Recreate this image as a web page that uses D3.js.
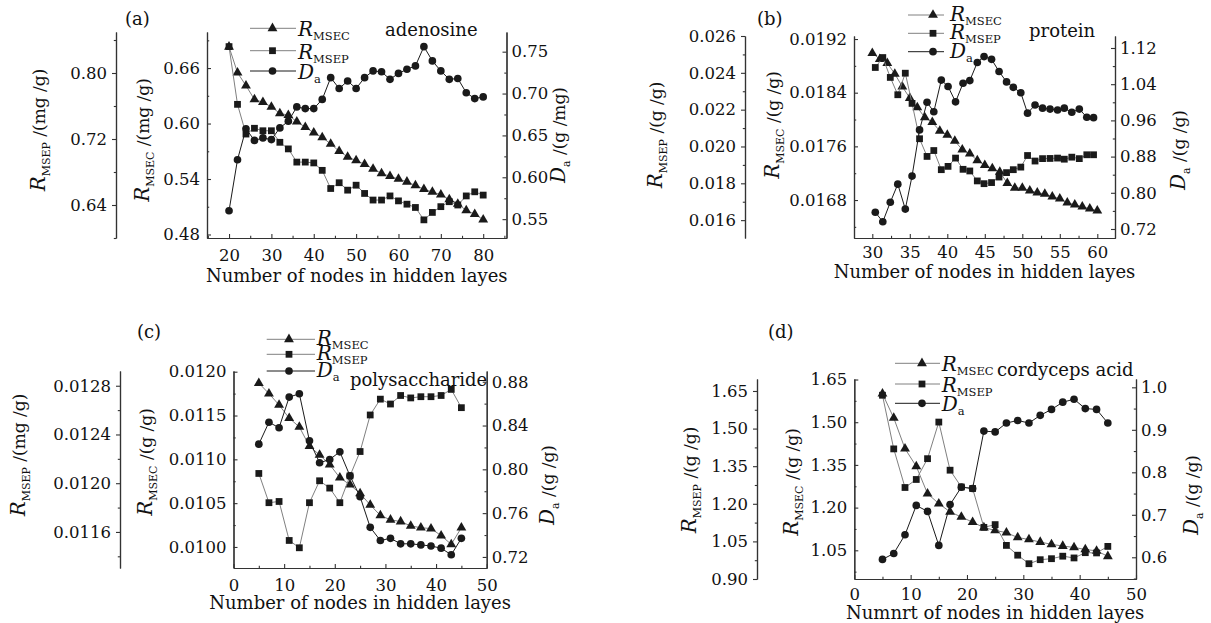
<!DOCTYPE html>
<html>
<head>
<meta charset="utf-8">
<script src="https://cdn.jsdelivr.net/npm/d3@7"></script>
<style>
  body { margin: 0; background: #fff; }
  svg text { font-family: "DejaVu Serif", serif; fill: #111; }
</style>
</head>
<body>
<svg id="chart" width="1211" height="623"></svg>
<script>
// ---- data ----
// (a) adenosine
var aNodes = [20,22,24,26,28,30,32,34,36,38,40,42,44,46,48,50,52,54,56,58,60,62,64,66,68,70,72,74,76,78,80];
var aMsec = [0.683,0.655,0.641,0.626,0.623,0.618,0.611,0.609,0.602,0.596,0.590,0.585,0.578,0.570,0.564,0.560,0.556,0.551,0.546,0.543,0.540,0.537,0.533,0.529,0.526,0.523,0.518,0.513,0.506,0.502,0.496];
var aMsep = [0.832,0.762,0.726,0.733,0.730,0.730,0.716,0.708,0.692,0.692,0.691,0.682,0.660,0.667,0.658,0.664,0.654,0.646,0.646,0.651,0.645,0.641,0.637,0.622,0.631,0.638,0.644,0.640,0.651,0.656,0.652];
var aDa = [0.560,0.621,0.658,0.644,0.647,0.645,0.659,0.667,0.684,0.682,0.682,0.693,0.719,0.706,0.715,0.706,0.719,0.727,0.726,0.717,0.724,0.729,0.733,0.756,0.739,0.727,0.717,0.718,0.701,0.694,0.696];

// (b) protein
var bNodes = [30,31,32,33,34,35,36,37,38,39,40,41,42,43,44,45,46,47,48,49,50,51,52,53,54,55,56,57,58,59,60];
var bNodes2 = [30.4,31.4,32.4,33.4,34.4,35.3,36.3,37.3,38.2,39.2,40.1,41.1,42.1,43.0,44.0,44.9,45.9,46.9,47.9,48.8,49.8,50.7,51.7,52.7,53.7,54.7,55.6,56.6,57.6,58.6,59.5];
var bMsec = [0.01899,0.01890,0.01884,0.01868,0.01849,0.01832,0.01818,0.01803,0.01796,0.01783,0.01777,0.01768,0.01755,0.01749,0.01739,0.01732,0.01727,0.01722,0.01705,0.01698,0.01698,0.01694,0.01691,0.01689,0.01685,0.01682,0.01676,0.01673,0.01670,0.01667,0.01664];
var bMsep = [0.02429,0.02483,0.02375,0.02281,0.02398,0.02234,0.02042,0.01946,0.01978,0.01874,0.01892,0.01937,0.01876,0.01867,0.01813,0.01798,0.01804,0.01834,0.01858,0.01874,0.01888,0.01951,0.01921,0.01934,0.01935,0.01937,0.01931,0.01942,0.01934,0.01955,0.01955];
var bDa = [0.757,0.736,0.779,0.819,0.764,0.837,0.939,1.000,0.979,1.049,1.035,1.001,1.042,1.048,1.088,1.101,1.095,1.068,1.045,1.033,1.021,0.976,0.994,0.987,0.985,0.983,0.987,0.978,0.985,0.967,0.966];

// (c) polysaccharide
var cNodes = [5,7,9,11,13,15,17,19,21,23,25,27,29,31,33,35,37,39,41,43,45];
var cMsec = [0.01187,0.01175,0.01162,0.01147,0.01137,0.01115,0.01105,0.01094,0.01079,0.01071,0.01061,0.01048,0.01036,0.01031,0.01029,0.01024,0.01022,0.01021,0.01013,0.01003,0.01022];
var cMsep = [0.01208,0.01184,0.01185,0.01153,0.01147,0.01184,0.01202,0.01196,0.01184,0.01206,0.01226,0.01256,0.01269,0.01265,0.01272,0.01270,0.01271,0.01271,0.01272,0.01277,0.01262];
var cDa = [0.823,0.843,0.838,0.866,0.869,0.826,0.806,0.809,0.816,0.794,0.775,0.747,0.735,0.737,0.732,0.732,0.731,0.730,0.728,0.722,0.737];

// (d) cordyceps acid
var dNodes = [5,7,9,11,13,15,17,19,21,23,25,27,29,31,33,35,37,39,41,43,45];
var dMsec = [1.600,1.515,1.407,1.345,1.249,1.214,1.185,1.167,1.149,1.130,1.120,1.112,1.095,1.088,1.079,1.071,1.065,1.060,1.053,1.048,1.029];
var dMsep = [1.633,1.419,1.265,1.297,1.380,1.526,1.334,1.267,1.261,1.106,1.117,1.034,0.995,0.961,0.977,0.981,0.991,0.984,1.005,1.004,1.030];
var dDa = [0.595,0.609,0.653,0.722,0.708,0.628,0.724,0.765,0.762,0.897,0.895,0.916,0.922,0.916,0.934,0.948,0.965,0.972,0.950,0.948,0.916];

// tick labels
var aXTicks = [20,30,40,50,60,70,80];
var aMsepTicks = [0.64,0.72,0.80];
var aMsecTicks = [0.48,0.54,0.60,0.66];
var aDaTicks = [0.55,0.60,0.65,0.70,0.75];
var bXTicks = [30,35,40,45,50,55,60];
var bMsepTicks = [0.016,0.018,0.020,0.022,0.024,0.026];
var bMsecTicks = [0.0168,0.0176,0.0184,0.0192];
var bDaTicks = [0.72,0.80,0.88,0.96,1.04,1.12];
var cXTicks = [0,10,20,30,40,50];
var cMsepTicks = [0.0116,0.0120,0.0124,0.0128];
var cMsecTicks = [0.0100,0.0105,0.0110,0.0115,0.0120];
var cDaTicks = [0.72,0.76,0.80,0.84,0.88];
var dXTicks = [0,10,20,30,40,50];
var dMsepTicks = [0.90,1.05,1.20,1.35,1.50,1.65];
var dMsecTicks = [1.05,1.20,1.35,1.50,1.65];
var dDaTicks = [0.6,0.7,0.8,0.9,1.0];

var svg = d3.select("#chart");
var GRAY = "#808080", INK = "#1a1a1a";

// minor ticks halfway between majors, filling the domain
function halves(ticks, domain) {
  var step = (ticks[1] - ticks[0]) / 2, out = [];
  for (var v = ticks[0] - step; v >= domain[0] - 1e-9; v -= step * 2) out.push(v);
  for (var i = 0; i < ticks.length; i++) {
    var m = ticks[i] + step;
    if (m <= domain[1] + 1e-9) out.push(m);
  }
  return out;
}

function addAxis(g, make, scale, ticks, fmt, size, pad, tx, ty) {
  var ga = g.append("g").attr("transform", "translate(" + tx + "," + ty + ")");
  ga.call(make(scale).tickValues(ticks).tickFormat(fmt ? d3.format(fmt) : d3.format("d"))
          .tickSizeInner(size).tickSizeOuter(0).tickPadding(pad));
  ga.append("g").call(make(scale).tickValues(halves(ticks, scale.domain())).tickFormat("")
          .tickSizeInner(size * 0.55).tickSizeOuter(0));
  ga.attr("font-family", null).attr("font-size", null);
  ga.selectAll("g").attr("font-family", null).attr("font-size", null);
  ga.selectAll("path.domain").attr("stroke", "#333").attr("stroke-width", 1.2);
  ga.selectAll(".tick line").attr("stroke", "#333").attr("stroke-width", 1.1);
  ga.selectAll("text").attr("font-size", 16.5).attr("fill", INK);
  return ga;
}

function axisTitle(g, cx, cy, main, sub, rest) {
  var t = g.append("text")
    .attr("transform", "translate(" + cx + "," + cy + ") rotate(-90)")
    .attr("text-anchor", "middle").attr("font-size", 20).attr("dy", "0.35em");
  t.append("tspan").attr("font-style", "italic").attr("font-size", 20).text(main);
  t.append("tspan").attr("font-size", 11).attr("dy", 5).text(sub);
  t.append("tspan").attr("font-size", 17).attr("dy", -5).text(" /(" + rest + ")");
}

function legendRow(g, y, p, sym, color, main, sub) {
  g.append("line").attr("x1", p.legX[0]).attr("x2", p.legX[2])
    .attr("y1", y).attr("y2", y).attr("stroke", color).attr("stroke-width", 1);
  g.append("path").attr("d", d3.symbol().type(sym.type).size(sym.size)())
    .attr("transform", "translate(" + p.legX[1] + "," + y + ")").attr("fill", INK);
  var t = g.append("text").attr("x", p.legX[3]).attr("y", y + p.legDy);
  t.append("tspan").attr("font-style", "italic").attr("font-size", 20).text(main);
  t.append("tspan").attr("font-size", 11.5).attr("dy", 4).text(sub);
}

var TRI = {type: d3.symbolTriangle, size: 42};
var SQR = {type: d3.symbolSquare, size: 46};
var CIR = {type: d3.symbolCircle, size: 46};

function drawSeries(g, xs, ys, x, y, sym, color) {
  var pts = xs.map(function (d, i) { return [x(d), y(ys[i])]; });
  g.append("path").attr("d", d3.line()(pts)).attr("fill", "none")
    .attr("stroke", color).attr("stroke-width", 1);
  g.selectAll(null).data(pts).enter().append("path")
    .attr("d", d3.symbol().type(sym.type).size(sym.size)())
    .attr("transform", function (d) { return "translate(" + d[0] + "," + d[1] + ")"; })
    .attr("fill", INK);
}

function drawPanel(p) {
  var g = svg.append("g");
  var x = d3.scaleLinear().domain(p.xDomain).range([p.inner, p.right]);
  var yP = d3.scaleLinear().domain(p.msepDomain).range([p.bottom, p.top]);
  var yC = d3.scaleLinear().domain(p.msecDomain).range([p.bottom, p.top]);
  var yD = d3.scaleLinear().domain(p.daDomain).range([p.bottom, p.top]);

  addAxis(g, d3.axisLeft, yP, p.msepTicks, p.msepFmt, 4, 5, p.outer, 0);
  addAxis(g, d3.axisLeft, yC, p.msecTicks, p.msecFmt, -4, 7, p.inner, 0);
  addAxis(g, d3.axisRight, yD, p.daTicks, p.daFmt, -4, 5, p.right, 0);
  addAxis(g, d3.axisBottom, x, p.xTicks, null, -4, p.xPad, 0, p.bottom);

  axisTitle(g, p.titleOuter[0], p.titleOuter[1], "R", "MSEP", p.units[0]);
  axisTitle(g, p.titleInner[0], p.titleInner[1], "R", "MSEC", p.units[1]);
  axisTitle(g, p.titleRight[0], p.titleRight[1], "D", "a", p.units[2]);

  g.append("text").attr("x", (p.inner + p.right) / 2).attr("y", p.xTitleY)
    .attr("text-anchor", "middle").attr("font-size", 18).text(p.xTitle);
  g.append("text").attr("x", p.tag[0]).attr("y", p.tag[1]).attr("font-size", 18).text("(" + p.id + ")");
  g.append("text").attr("x", p.name[0]).attr("y", p.name[1]).attr("font-size", 18).text(p.nameText);

  drawSeries(g, p.nodesC, p.msec, x, yC, TRI, GRAY);
  drawSeries(g, p.nodesP, p.msep, x, yP, SQR, GRAY);
  drawSeries(g, p.nodesP, p.da, x, yD, CIR, INK);

  legendRow(g, p.legY[0], p, TRI, GRAY, "R", "MSEC");
  legendRow(g, p.legY[1], p, SQR, GRAY, "R", "MSEP");
  legendRow(g, p.legY[2], p, CIR, INK, "D", "a");
}

var panels = [
  { id: "a", nodesC: aNodes, nodesP: aNodes, msec: aMsec, msep: aMsep, da: aDa,
    xTicks: aXTicks, msepTicks: aMsepTicks, msecTicks: aMsecTicks, daTicks: aDaTicks,
    msepFmt: ".2f", msecFmt: ".2f", daFmt: ".2f",
    xDomain: [14.8, 85.5], msepDomain: [0.600, 0.8497], msecDomain: [0.4762, 0.699], daDomain: [0.5275, 0.7735],
    outer: 116, inner: 207, right: 506.5, top: 32, bottom: 238, xPad: 11, xTitleY: 282,
    titleOuter: [38, 130], titleInner: [141.5, 140], titleRight: [558, 135], units: ["mg /g", "mg /g", "g /mg"],
    xTitle: "Number of nodes in hidden layes", tag: [125, 25], name: [385, 36], nameText: "adenosine",
    legY: [28.3, 50.7, 71], legX: [250, 272.5, 296, 298], legDy: 8 },
  { id: "b", nodesC: bNodes, nodesP: bNodes2, msec: bMsec, msep: bMsep, da: bDa,
    xTicks: bXTicks, msepTicks: bMsepTicks, msecTicks: bMsecTicks, daTicks: bDaTicks,
    msepFmt: ".3f", msecFmt: ".4f", daFmt: ".2f",
    xDomain: [27.56, 62.36], msepDomain: [0.01503, 0.026], msecDomain: [0.016234, 0.019245], daDomain: [0.7001, 1.1465],
    outer: 745, inner: 854, right: 1115, top: 36, bottom: 238, xPad: 8, xTitleY: 278,
    titleOuter: [655, 135], titleInner: [771.5, 125], titleRight: [1177.5, 150], units: ["g /g", "g /g", "g /g"],
    xTitle: "Number of nodes in hidden layes", tag: [757, 25], name: [1029, 37], nameText: "protein",
    legY: [15, 33.3, 51.7], legX: [908, 933, 944, 950], legDy: 6 },
  { id: "c", nodesC: cNodes, nodesP: cNodes, msec: cMsec, msep: cMsep, da: cDa,
    xTicks: cXTicks, msepTicks: cMsepTicks, msecTicks: cMsecTicks, daTicks: cDaTicks,
    msepFmt: ".4f", msecFmt: ".4f", daFmt: ".2f",
    xDomain: [0, 50], msepDomain: [0.011304, 0.012921], msecDomain: [0.00976, 0.012008], daDomain: [0.7099, 0.8898],
    outer: 120, inner: 233.5, right: 486.7, top: 371, bottom: 568, xPad: 11, xTitleY: 609,
    titleOuter: [17.5, 455], titleInner: [145, 462], titleRight: [546.5, 485], units: ["mg /g", "g /g", "g /g"],
    xTitle: "Number of nodes in hidden layes", tag: [137, 338], name: [350, 386], nameText: "polysaccharide",
    legY: [339.3, 354.3, 371], legX: [266.7, 289, 315, 316.7], legDy: 6 },
  { id: "d", nodesC: dNodes, nodesP: dNodes, msec: dMsec, msep: dMsep, da: dDa,
    xTicks: dXTicks, msepTicks: dMsepTicks, msecTicks: dMsecTicks, daTicks: dDaTicks,
    msepFmt: ".2f", msecFmt: ".2f", daFmt: ".1f",
    xDomain: [0, 50], msepDomain: [0.90, 1.6978], msecDomain: [0.9492, 1.6518], daDomain: [0.5489, 1.0196],
    outer: 757, inner: 854.3, right: 1136, top: 379, bottom: 579, xPad: 9, xTitleY: 619,
    titleOuter: [689, 480], titleInner: [790.5, 482], titleRight: [1190.5, 495], units: ["g /g", "g /g", "g /g"],
    xTitle: "Numnrt of nodes in hidden layes", tag: [768, 338], name: [997, 376], nameText: "cordyceps acid",
    legY: [363.3, 384, 403.3], legX: [895, 922, 940, 941.7], legDy: 8 }
];

panels.forEach(drawPanel);
</script>
</body>
</html>
